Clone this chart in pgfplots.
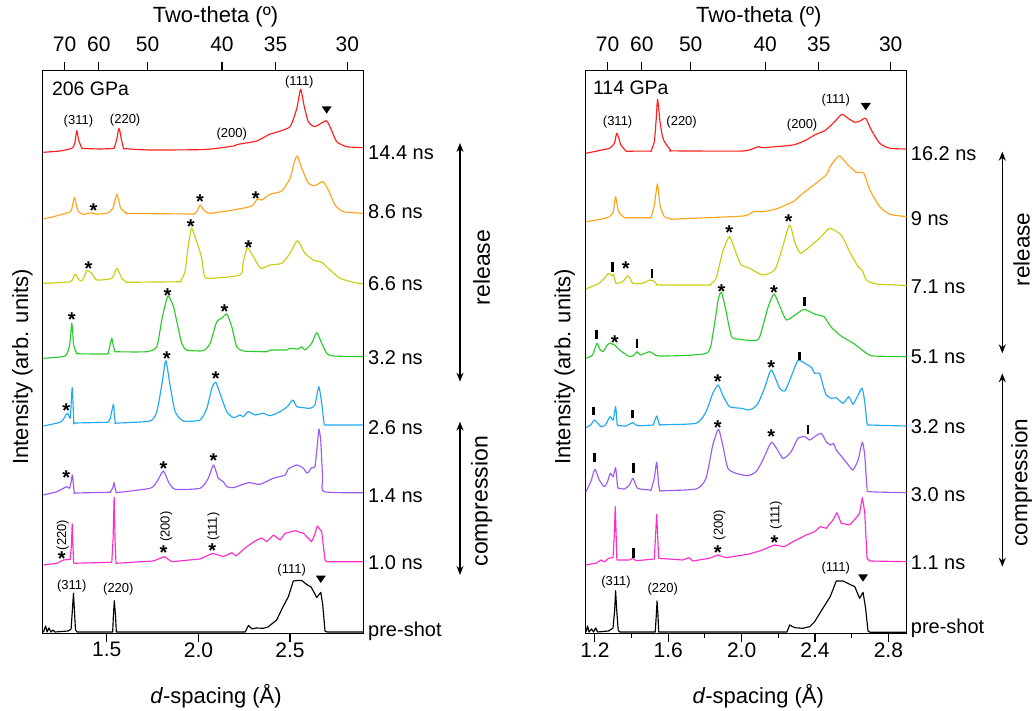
\documentclass[border=0pt]{standalone}
\usepackage{fontspec}
\setmainfont{Liberation Sans}
\usepackage{pgfplots}
\pgfplotsset{compat=1.18}
\usetikzlibrary{arrows.meta}

\definecolor{cRed}{HTML}{FF1E1E}
\definecolor{cOrange}{HTML}{FFA41C}
\definecolor{cYellow}{HTML}{CCCC10}
\definecolor{cGreen}{HTML}{2CCB2C}
\definecolor{cBlue}{HTML}{1FA9F2}
\definecolor{cPurple}{HTML}{9C5AEE}
\definecolor{cMagenta}{HTML}{FF2BCB}

\newcommand\fs[1]{\fontsize{#1}{#1}\selectfont}

\pgfplotsset{
  panel/.style={
    scale only axis, height=562.6pt,
    xmin=1.15, xmax=2.9, ymin=0, ymax=562.6,
    ytick=\empty,
    axis line style={line width=1.1pt},
    tick style={line width=1.1pt, black},
    major tick length=9pt, minor tick length=4.5pt,
    tick align=outside, xtick pos=left,
    xticklabel style={font=\fs{21}, inner sep=0pt},
    every axis plot/.append style={line width=1.15pt, line join=round, no markers,
      smooth, tension=0.35},
  },
  toppanel/.style={
    scale only axis, height=562.6pt,
    xmin=1.15, xmax=2.9, ymin=0, ymax=562.6,
    axis x line*=top, hide y axis,
    axis line style={line width=1.1pt},
    tick style={line width=1.1pt, black},
    major tick length=9pt, tick align=outside,
    xtick={1.2692,1.4560,1.7226,2.1286,2.4210,2.8128},
    xticklabels={70,60,50,40,35,30},
    xticklabel shift=10pt,
    xticklabel style={font=\fs{21}, inner sep=0pt},
  },
}
\tikzset{
  star/.style={font=\fs{20}\bfseries, inner sep=0pt, anchor=north},
  hkl/.style={font=\fs{13}, inner sep=0pt},
  bar/.style={line width=2.4pt, black},
  tri/.style={fill=black},
  dbl/.style={line width=1.2pt, {Stealth[length=9pt,width=7pt]}-{Stealth[length=9pt,width=7pt]}},
}
% filled downward triangle centred on an axis point
\newcommand\tri[2]{\fill[tri] (axis cs:#1,#2) ++(-5pt,3.7pt) -- ++(10pt,0pt) -- ++(-5pt,-7.4pt) -- cycle;}

\begin{document}
\begin{tikzpicture}[x=1pt,y=1pt]
\useasboundingbox (0,0) rectangle (1034,711);

% ---------------- left panel: 206 GPa ----------------
\begin{axis}[panel, width=320.6pt, at={(42.7pt,77.7pt)}, anchor=south west,
  xtick={1.5,2.0,2.5}, xticklabels={1.5,2.0,2.5}]
% 14.4 ns
\addplot[cRed] coordinates {
(1.154,481.0)(1.245,482.3)(1.309,485)(1.324,489.3)(1.336,502.6)(1.346,493.3)(1.364,485)
(1.372,484.8)(1.463,484.3)(1.532,484.8)(1.540,485)(1.553,493.3)(1.567,505)(1.578,495.3)
(1.591,485)(1.600,484.6)(1.736,483.3)
(2.036,483.8)(2.191,487.3)(2.218,489)(2.318,492.3)(2.391,499.3)(2.418,500.6)(2.500,506.6)
(2.537,525)(2.558,544)(2.576,528.3)(2.600,511.6)(2.636,506.6)(2.697,512.6)(2.722,505)
(2.755,491.6)(2.809,486.6)(2.898,485.6)};
% 8.6 ns
\addplot[cOrange] coordinates {
(1.154,414.3)(1.209,416.6)(1.300,421.6)(1.313,428.3)(1.323,436)(1.334,428.3)(1.345,421.6)
(1.372,419)(1.418,420.6)(1.436,419.3)(1.500,420)(1.533,425)(1.555,439)(1.576,425)(1.609,420)
(1.617,419.8)(1.965,419.3)
(1.972,419.3)(1.991,421.6)(2.009,428.3)(2.025,424.3)(2.042,421.3)(2.064,420)(2.191,423.3)
(2.282,426.6)(2.303,429.3)(2.322,434.3)(2.346,433.3)(2.391,439)(2.455,442.3)(2.500,455)
(2.524,471.6)(2.540,477.3)(2.564,465)(2.600,450)(2.636,447.6)(2.679,451.6)(2.709,443.3)
(2.746,428.3)(2.791,421.6)(2.898,420)};
% 6.6 ns
\addplot[cYellow] coordinates {
(1.154,350)(1.300,351.6)(1.327,359)(1.354,352.3)(1.371,354.3)(1.391,362.6)(1.418,360)
(1.445,353.3)(1.527,355)(1.555,365)(1.582,355)(1.609,351)(1.616,351)(1.893,351.5)
(1.900,351.6)(1.927,361.6)
(1.945,388.3)(1.962,405.3)(1.976,399.3)(2.000,386.6)(2.018,375)(2.027,363.3)(2.046,355)
(2.227,358.3)(2.245,371.6)(2.267,385.6)(2.300,376.6)(2.340,365)(2.391,368.3)(2.455,370)
(2.500,380)(2.540,392.6)(2.582,380)(2.627,373.3)(2.673,371)(2.718,363.3)(2.773,355)
(2.845,351)(2.898,349.3)};
% 3.2 ns
\addplot[cGreen] coordinates {
(1.154,275)(1.272,277.3)(1.297,288.3)(1.309,310)(1.319,288.3)(1.336,280)(1.345,279.5)
(1.500,279.3)(1.508,280.5)(1.515,286.3)(1.527,295)(1.537,286.3)(1.545,281.6)(1.553,281.5)
(1.718,281.6)(1.773,286.6)(1.800,313.3)
(1.833,337.3)(1.864,326.6)(1.882,311.6)(1.909,290)(1.936,283.3)(2.027,282.6)(2.064,290)
(2.100,311.6)(2.127,315)(2.155,319.3)(2.182,306.6)(2.209,286.6)(2.245,282.3)(2.373,281.6)
(2.391,283.3)(2.482,283.3)(2.500,285)(2.544,284.3)(2.564,286.6)(2.582,283.3)(2.618,290)
(2.646,300.6)(2.673,290)(2.700,280)(2.736,277.3)(2.898,276.6)};
% 2.6 ns
\addplot[cBlue] coordinates {
(1.154,207.3)(1.245,211)(1.267,215.3)(1.285,220)(1.300,215)(1.305,228.3)(1.311,245.6)
(1.316,228.3)(1.320,210)(1.327,210.3)(1.500,211)(1.510,212)(1.518,214.3)(1.536,229)
(1.541,218.3)(1.547,210)(1.554,210.2)
(1.736,212.3)(1.773,221.6)(1.800,248.3)(1.822,272.6)(1.845,248.3)(1.873,221.6)(1.918,212.3)
(2.009,213.3)(2.046,225)(2.073,245)(2.095,251)(2.127,235)(2.155,221.6)(2.191,215.6)
(2.227,218.3)(2.245,216.6)(2.273,221.6)(2.309,218.3)(2.354,220)(2.391,217.6)(2.446,221.6)
(2.485,226.6)(2.515,233.3)(2.537,226.6)(2.573,225.6)(2.609,225)(2.636,228.3)(2.657,246.6)
(2.673,230)(2.686,210)(2.700,208.3)(2.898,208.3)};
% 1.4 ns
\addplot[cPurple] coordinates {
(1.154,138.3)(1.227,141.6)(1.256,144.3)(1.282,146.6)(1.296,145)(1.305,151.3)(1.312,158.3)
(1.318,148.3)(1.323,140)(1.330,140.3)(1.512,141)(1.518,141)(1.532,145.3)(1.540,150.6)
(1.545,145.3)(1.552,140.6)(1.560,140.8)
(1.736,145)(1.773,151.6)(1.809,162.3)(1.836,151.6)(1.873,144)(2.009,145)(2.054,155)
(2.082,168.3)(2.109,155)(2.136,151.6)(2.155,146.6)(2.191,145.6)(2.273,150.6)(2.336,149)
(2.409,155)(2.473,158.3)(2.491,164.3)(2.537,168.3)(2.573,165)(2.594,160)(2.618,165.6)
(2.636,166.6)(2.649,188.3)(2.658,204.3)(2.668,191.6)(2.678,155)(2.686,141.6)(2.898,140.6)};
% 1.0 ns
\addplot[cMagenta, sharp plot] coordinates {
(1.154,68.3)(1.227,70)(1.263,73.3)(1.300,74)(1.307,88.3)(1.311,109.3)(1.315,88.3)(1.319,70)
(1.527,71)(1.534,93.3)(1.540,136)(1.545,93.3)(1.550,70)(1.754,72.3)(1.813,76.6)(1.855,71.6)
(2.009,74.3)(2.078,80)(2.136,76.6)(2.182,80.6)(2.205,77.3)(2.264,86.6)(2.318,93.3)
(2.346,95.3)(2.373,91.6)(2.409,98.3)(2.446,93.3)(2.473,100)(2.527,102.6)(2.573,100)
(2.618,91.6)(2.634,98.3)(2.649,107.3)(2.673,101.6)(2.691,73.3)(2.700,71.6)(2.898,71.6)};
% pre-shot
\addplot[black, sharp plot] coordinates {
(1.154,1)(1.166,7.3)(1.174,1.3)(1.184,5.3)(1.195,1.3)(1.206,3.3)(1.217,1.3)(1.289,2.3)
(1.305,4.3)(1.312,23.3)(1.318,40)(1.323,23.3)(1.329,3.3)(1.338,1.3)(1.532,1.3)(1.536,18.3)
(1.541,32.6)(1.547,18.3)(1.552,1.3)(2.255,1.3)(2.273,7.8)(2.293,4.3)(2.315,5.3)(2.354,5)
(2.380,6.3)(2.427,13.3)(2.461,26.3)(2.491,36.6)(2.518,52.3)(2.538,52.8)(2.564,52.8)
(2.591,48.8)(2.615,46.3)(2.646,35.8)(2.668,41)(2.678,29.3)(2.691,2.3)(2.702,1.3)(2.898,1.3)};

\node[font=\fs{19.5}, anchor=west, inner sep=0pt] at (axis cs:1.200,545) {206 GPa};
\node[hkl] at (axis cs:1.345,512.6) {(311)};
\node[hkl] at (axis cs:1.600,513.3) {(220)};
\node[hkl] at (axis cs:2.182,499.3) {(200)};
\node[hkl] at (axis cs:2.551,551.6) {(111)};
\tri{2.700}{523.3}
\node[star] at (axis cs:1.427,429.6) {*};
\node[star] at (axis cs:2.009,439) {*};
\node[star] at (axis cs:2.313,442) {*};
\node[star] at (axis cs:1.400,371.3) {*};
\node[star] at (axis cs:1.958,413.6) {*};
\node[star] at (axis cs:2.273,393) {*};
\node[star] at (axis cs:1.309,320.3) {*};
\node[star] at (axis cs:1.831,344.6) {*};
\node[star] at (axis cs:2.142,329) {*};
\node[star] at (axis cs:1.278,229.6) {*};
\node[star] at (axis cs:1.827,281.3) {*};
\node[star] at (axis cs:2.095,261.3) {*};
\node[star] at (axis cs:1.278,163) {*};
\node[star] at (axis cs:1.809,172) {*};
\node[star] at (axis cs:2.082,179.6) {*};
\node[star] at (axis cs:1.254,81.3) {*};
\node[star] at (axis cs:1.809,87.3) {*};
\node[star] at (axis cs:2.076,89.6) {*};
\node[hkl, rotate=90] at (axis cs:1.260,98.3) {(220)};
\node[hkl, rotate=90] at (axis cs:1.824,106.6) {(200)};
\node[hkl, rotate=90] at (axis cs:2.082,106.6) {(111)};
\node[hkl] at (axis cs:1.309,47.3) {(311)};
\node[hkl] at (axis cs:1.563,44) {(220)};
\node[hkl] at (axis cs:2.509,63.3) {(111)};
\tri{2.668}{54}
\end{axis}
\begin{axis}[toppanel, width=320.6pt, at={(42.7pt,77.7pt)}, anchor=south west]
\end{axis}

% ---------------- right panel: 114 GPa ----------------
\begin{axis}[panel, width=321pt, at={(585.7pt,77.7pt)}, anchor=south west,
  xtick={1.2,1.6,2.0,2.4,2.8}, xticklabels={1.2,1.6,2.0,2.4,2.8},
  minor xtick={1.4,1.8,2.2,2.6}]
% 16.2 ns
\addplot[cRed] coordinates {
(1.151,480)(1.226,482.8)(1.279,485)(1.306,490)(1.319,500)(1.330,495.3)(1.342,488.3)
(1.369,482.3)(1.378,482.1)(1.500,482.2)(1.506,482.3)(1.524,491.6)(1.534,513.3)(1.542,534)
(1.555,511.6)(1.567,498.3)(1.579,491.6)(1.615,482.6)(1.625,482.4)
(2.007,482.3)(2.090,486.6)(2.116,485.6)(2.280,488.3)(2.352,493.3)
(2.398,498.3)(2.453,502.6)(2.489,508.3)(2.516,513.3)(2.547,519)(2.580,515)(2.617,511)
(2.646,512.3)(2.676,515)(2.707,503.3)(2.753,490)(2.808,485)(2.900,484.3)};
% 9 ns
\addplot[cOrange] coordinates {
(1.151,411.6)(1.226,413.8)(1.279,416.6)(1.300,421.6)(1.313,436.6)(1.329,421.6)(1.361,415.6)
(1.370,415.5)(1.500,415.6)(1.506,415.6)(1.524,428.3)(1.541,449.3)(1.555,428.3)(1.579,416.6)
(1.624,414)(1.635,414.2)(2.007,417.3)
(2.063,421.6)(2.116,421.6)(2.188,424.3)(2.280,431.6)(2.334,440)(2.398,449)(2.461,458.3)
(2.483,466.6)(2.509,473.3)(2.535,477.3)(2.580,468.3)(2.625,461)(2.666,460)(2.699,443.3)
(2.753,426.6)(2.808,419)(2.900,416.6)};
% 7.1 ns
\addplot[cYellow] coordinates {
(1.151,344.3)(1.224,350)(1.251,355)(1.275,360)(1.293,357.3)(1.302,359)(1.315,350)
(1.351,351.6)(1.382,357.6)(1.406,350)(1.460,350)(1.500,353.3)(1.524,351.6)(1.542,348.3)
(1.550,348.3)(1.818,348.3)
(1.825,348.3)(1.861,355)(1.897,381.6)(1.934,396.6)(1.970,380)(1.997,368.3)(2.034,365.8)
(2.116,358.3)(2.180,363.3)(2.216,381.6)(2.261,408.3)(2.289,391.6)(2.320,380)(2.371,386.6)
(2.434,396.6)(2.480,405)(2.543,398.3)(2.589,381.6)(2.635,366.6)(2.657,363.3)(2.680,353.3)
(2.735,349.3)(2.900,347.8)};
% 5.1 ns
\addplot[cGreen] coordinates {
(1.151,275)(1.187,278.3)(1.211,290)(1.226,284.3)(1.244,281.6)(1.264,287.3)(1.280,290)
(1.308,288.3)(1.335,283.3)(1.390,276.6)(1.417,278.8)(1.429,281.6)(1.450,278.3)(1.499,281.6)
(1.553,277.3)(1.808,280)(1.844,300)(1.872,333.3)(1.890,341)(1.914,323.3)(1.945,296.6)
(1.990,294)(2.072,292.6)(2.099,296.6)(2.145,326.6)(2.177,339.3)(2.209,326.6)(2.244,313.3)
(2.291,318.3)(2.341,324)(2.400,319)(2.449,316.6)(2.490,305.8)(2.547,296.6)(2.609,290)
(2.681,280)(2.718,277.3)(2.900,276.6)};
% 3.2 ns
\addplot[cBlue] coordinates {
(1.151,205.6)(1.177,208.3)(1.197,213.3)(1.215,210.3)(1.233,206.6)(1.258,208.3)(1.282,216.6)
(1.300,213.3)(1.313,226.6)(1.322,208.3)(1.330,207.8)(1.369,207.3)(1.406,210.6)(1.433,207.6)
(1.512,208.2)(1.519,208.3)(1.537,217.3)(1.552,208.3)(1.560,208.5)
(1.752,210)(1.806,221.6)(1.843,240)(1.872,248.3)(1.897,238.3)
(1.934,226.6)(2.000,225)(2.036,223.3)(2.063,225)(2.090,230)(2.127,246.3)(2.162,263.3)
(2.207,245)(2.236,242.3)(2.270,256.6)(2.307,272.8)(2.344,270)(2.381,265.8)(2.398,260)
(2.425,260)(2.443,248.3)(2.461,238.3)(2.489,235)(2.516,235.6)(2.553,230)(2.585,236.6)
(2.607,229)(2.635,238.3)(2.657,245)(2.671,231.6)(2.684,210)(2.698,208.3)(2.900,207.3)};
% 3.0 ns
\addplot[cPurple] coordinates {
(1.151,141.6)(1.178,151.6)(1.200,164)(1.224,153.3)(1.251,146.6)(1.269,151.6)(1.284,160)
(1.300,156.6)(1.313,165.6)(1.324,146.6)(1.332,145)(1.361,144.3)(1.388,148.3)(1.408,155)
(1.433,145)(1.500,143.3)(1.506,143.3)(1.524,155)(1.537,171)(1.548,148.3)(1.555,142.3)
(1.563,142.5)(1.752,144.3)(1.806,155)
(1.843,188.3)(1.874,204)(1.897,188.3)(1.925,165)(1.970,160)(2.034,157.6)(2.079,161.6)
(2.116,173.3)(2.165,191)(2.225,175)(2.270,181.6)(2.307,195)(2.344,196.6)(2.371,193.3)
(2.398,196.6)(2.434,200)(2.461,191.6)(2.483,188.3)(2.502,189.6)(2.516,183.3)(2.553,175)
(2.585,167.6)(2.607,163.3)(2.635,173.3)(2.658,191)(2.671,178.3)(2.684,145)(2.698,141.6)
(2.900,140.6)};
% 1.1 ns
\addplot[cMagenta, sharp plot] coordinates {
(1.151,68.3)(1.205,70)(1.233,73.3)(1.253,71.3)(1.275,75)(1.299,75.8)(1.306,98.3)(1.311,126.6)
(1.316,98.3)(1.320,73.3)(1.388,73.3)(1.406,75)(1.424,72.6)(1.524,74.3)(1.531,98.3)(1.537,119)
(1.542,98.3)(1.548,75)(1.679,73.3)(1.712,75.6)(1.734,72.3)(1.825,75)(1.870,78.3)(1.915,75.6)
(2.034,79)(2.098,82.3)(2.180,88.3)(2.234,86.6)(2.280,91.6)(2.352,98.3)(2.398,101.6)
(2.429,106.6)(2.461,105)(2.498,113.3)(2.520,120.6)(2.543,110)(2.589,108.3)(2.625,115.6)
(2.643,120)(2.658,135.6)(2.671,121.6)(2.684,75)(2.698,72.3)(2.900,71.6)};
% pre-shot
\addplot[black, sharp plot] coordinates {
(1.151,1)(1.160,7.3)(1.168,1.3)(1.182,4.3)(1.193,1.3)(1.204,5.3)(1.215,1.3)(1.275,2.3)
(1.299,5.3)(1.308,23.3)(1.313,42.6)(1.319,23.3)(1.327,3.3)(1.335,1.3)(1.529,1.3)(1.535,18.3)
(1.539,32.3)(1.544,18.3)(1.548,1.3)(2.247,1.3)(2.262,8.3)(2.289,5.6)(2.334,5)(2.371,6.6)
(2.398,11.6)(2.443,25)(2.483,36.6)(2.516,52.3)(2.553,52.3)(2.589,49)(2.617,46.6)(2.643,35)
(2.662,41)(2.676,25)(2.689,2.3)(2.700,1)(2.900,1)};

\node[font=\fs{19.5}, anchor=west, inner sep=0pt] at (axis cs:1.189,545.3) {114 GPa};
\node[hkl] at (axis cs:1.324,511.6) {(311)};
\node[hkl] at (axis cs:1.673,511.6) {(220)};
\node[hkl] at (axis cs:2.330,508.3) {(200)};
\node[hkl] at (axis cs:2.513,533.3) {(111)};
\tri{2.677}{526.6}
\draw[bar] (axis cs:1.297,361.6) -- (axis cs:1.297,371.6);
\draw[bar] (axis cs:1.510,355) -- (axis cs:1.510,364);
\node[star] at (axis cs:1.369,371.3) {*};
\node[star] at (axis cs:1.932,408) {*};
\node[star] at (axis cs:2.256,418.6) {*};
\draw[bar] (axis cs:1.209,294.3) -- (axis cs:1.209,303.3);
\draw[bar] (axis cs:1.429,285.6) -- (axis cs:1.429,294.3);
\draw[bar] (axis cs:2.343,327.6) -- (axis cs:2.343,336.6);
\node[star] at (axis cs:1.309,298) {*};
\node[star] at (axis cs:1.890,349) {*};
\node[star] at (axis cs:2.176,347.3) {*};
\draw[bar] (axis cs:1.193,218.3) -- (axis cs:1.193,226.6);
\draw[bar] (axis cs:1.406,215) -- (axis cs:1.406,223.3);
\draw[bar] (axis cs:2.316,273.3) -- (axis cs:2.316,281.6);
\node[star] at (axis cs:1.870,259) {*};
\node[star] at (axis cs:2.161,273) {*};
\draw[bar] (axis cs:1.197,171) -- (axis cs:1.197,180);
\draw[bar] (axis cs:1.410,160.6) -- (axis cs:1.410,170);
\draw[bar] (axis cs:2.362,199) -- (axis cs:2.362,208.3);
\node[star] at (axis cs:1.870,213) {*};
\node[star] at (axis cs:2.161,204) {*};
\draw[bar] (axis cs:1.410,75) -- (axis cs:1.410,85);
\node[star] at (axis cs:1.870,88) {*};
\node[star] at (axis cs:2.180,98) {*};
\node[hkl, rotate=90] at (axis cs:1.879,108.3) {(200)};
\node[hkl, rotate=90] at (axis cs:2.188,118.3) {(111)};
\node[hkl] at (axis cs:1.315,51) {(311)};
\node[hkl] at (axis cs:1.570,44) {(220)};
\node[hkl] at (axis cs:2.513,65.6) {(111)};
\tri{2.662}{55.3}
\end{axis}
\begin{axis}[toppanel, width=321pt, at={(585.7pt,77.7pt)}, anchor=south west]
\end{axis}

% ---------------- labels outside the axes ----------------
\node[font=\fs{22}] at (215.5,694.3) {Two-theta (º)};
\node[font=\fs{22}] at (758.8,694.3) {Two-theta (º)};
\node[font=\fs{22}] at (216,15) {\textit{d}-spacing (Å)};
\node[font=\fs{22}] at (758.3,15) {\textit{d}-spacing (Å)};
\node[font=\fs{22}, rotate=90] at (22.5,344) {Intensity (arb. units)};
\node[font=\fs{22}, rotate=90] at (564.7,344) {Intensity (arb. units)};

\begin{scope}[every node/.style={font=\fs{20}, anchor=base west, inner sep=0pt}]
\node at (368,551.8) {14.4 ns};
\node at (368,492.7) {8.6 ns};
\node at (368,420.3) {6.6 ns};
\node at (368,346) {3.2 ns};
\node at (368,276.7) {2.6 ns};
\node at (368,208.7) {1.4 ns};
\node at (368,141) {1.0 ns};
\node at (368,74.3) {pre-shot};
\node at (910.7,550) {16.2 ns};
\node at (910.7,485) {9 ns};
\node at (910.7,417.7) {7.1 ns};
\node at (910.7,347.7) {5.1 ns};
\node at (910.7,277.7) {3.2 ns};
\node at (910.7,209.3) {3.0 ns};
\node at (910.7,141) {1.1 ns};
\node at (910.7,77.5) {pre-shot};
\end{scope}

\draw[dbl] (460,568) -- (460,329.3);
\draw[dbl] (460,289.3) -- (460,136);
\node[font=\fs{23}, rotate=90] at (481.7,443.5) {release};
\node[font=\fs{23}, rotate=90] at (481.7,209.7) {compression};
\draw[dbl] (1002.3,559.3) -- (1002.3,357.7);
\draw[dbl] (1002.3,337.7) -- (1002.3,144.3);
\node[font=\fs{22.5}, rotate=90] at (1021.5,461.5) {release};
\node[font=\fs{22.5}, rotate=90] at (1021.5,228.5) {compression};
\end{tikzpicture}
\end{document}
